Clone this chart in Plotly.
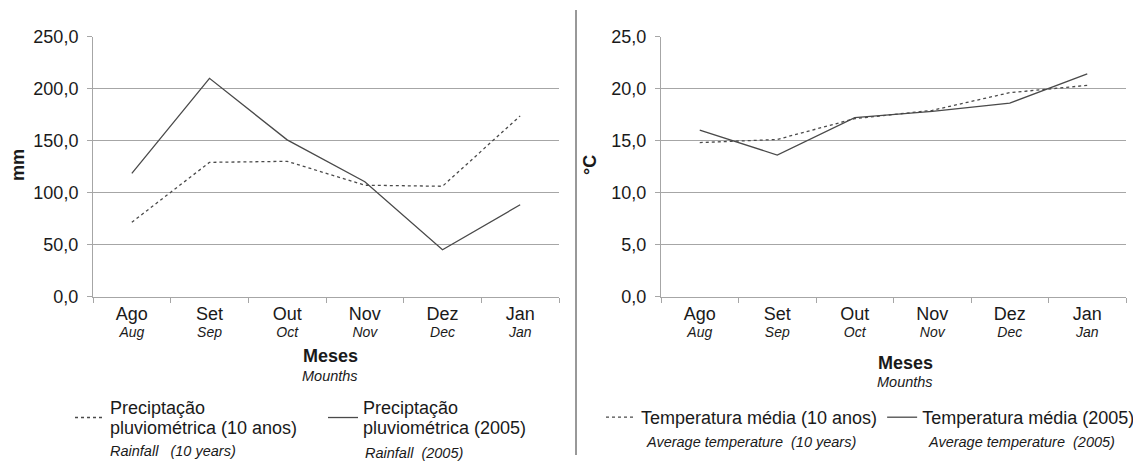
import plotly.graph_objects as go

months_pt = ["Ago", "Set", "Out", "Nov", "Dez", "Jan"]
months_en = ["Aug", "Sep", "Oct", "Nov", "Dec", "Jan"]
rain_10y = [71.4, 129.0, 130.0, 107.0, 106.0, 173.7]
rain_2005 = [118.4, 209.8, 150.6, 110.4, 45.0, 88.2]
temp_10y = [14.8, 15.1, 17.1, 17.9, 19.6, 20.3]
temp_2005 = [16.0, 13.6, 17.2, 17.8, 18.6, 21.4]
rain_ticks = [0, 50, 100, 150, 200, 250]
temp_ticks = [0, 5, 10, 15, 20, 25]

FONT = "Liberation Sans, Arial, sans-serif"
TXT = "#1a1a1a"
LINE = "#4a4a4a"
GRID = "#a6a6a6"

# page has an 8px body margin: figure is drawn 8px right/down of the page origin
OFF = 8
W, H = 1141 - OFF, 463 - OFF


def px(x):
    return (x - OFF) / W


def py(y):
    return 1 - (y - OFF) / H


ticktext = [f"<span style='font-size:18px'>{p}</span><br><i><span style='font-size:14px'>{e}</span></i>"
            for p, e in zip(months_pt, months_en)]


def big(s):
    return "<br>".join(f"<span style='font-size:18px'>{part}</span>" for part in s.split("|"))


fig = go.Figure()
fig.add_trace(go.Scatter(x=months_pt, y=rain_10y, mode="lines", name=big("Precipta\u00e7\u00e3o|pluviom\u00e9trica (10 anos)"),
                         line=dict(color=LINE, width=1.3, dash="3px,3px"), xaxis="x", yaxis="y", legend="legend"))
fig.add_trace(go.Scatter(x=months_pt, y=rain_2005, mode="lines", name=big("Precipta\u00e7\u00e3o|pluviom\u00e9trica (2005)"),
                         line=dict(color=LINE, width=1.3), xaxis="x", yaxis="y", legend="legend"))
fig.add_trace(go.Scatter(x=months_pt, y=temp_10y, mode="lines", name="Temperatura m\u00e9dia (10 anos)",
                         line=dict(color=LINE, width=1.3, dash="3px,3px"), xaxis="x2", yaxis="y2", legend="legend2"))
fig.add_trace(go.Scatter(x=months_pt, y=temp_2005, mode="lines", name="Temperatura m\u00e9dia (2005)",
                         line=dict(color=LINE, width=1.3), xaxis="x2", yaxis="y2", legend="legend2"))

ydom = [py(296.5), py(36.5)]

xcommon = dict(type="category", tickmode="array", tickvals=months_pt, ticktext=ticktext,
               range=[-0.5, 5.5], automargin=False, ticklabelstandoff=7,
               tickson="boundaries", ticks="outside", ticklen=5, tickcolor=GRID,
               showline=True, linecolor=GRID, linewidth=1, showgrid=False, zeroline=False,
               tickfont=dict(family=FONT, size=13, color=TXT), fixedrange=True)
ycommon = dict(showline=True, linecolor=GRID, linewidth=1, showgrid=True, gridcolor=GRID, gridwidth=1,
               ticks="outside", ticklen=5, tickcolor=GRID, zeroline=False, tickformat=".1f", automargin=False,
               ticklabelstandoff=5,
               tickfont=dict(family=FONT, size=18, color=TXT), domain=ydom)

fig.update_layout(
    width=W, height=H, margin=dict(l=0, r=0, t=0, b=0, autoexpand=False),
    paper_bgcolor="white", plot_bgcolor="white", separators=",.",
    font=dict(family=FONT, color=TXT),
    xaxis=dict(domain=[px(93), px(559)], anchor="y", **xcommon),
    yaxis=dict(range=[0, 250.01], tickvals=rain_ticks, anchor="x", **ycommon),
    xaxis2=dict(domain=[px(661), px(1126)], anchor="y2", **xcommon),
    yaxis2=dict(range=[0, 25.001], tickvals=temp_ticks, anchor="x2", **ycommon),
    legend=dict(orientation="h", x=px(70), y=py(391), xanchor="left", yanchor="top",
                font=dict(family=FONT, size=15.4, color=TXT), entrywidth=208, entrywidthmode="pixels",
                bgcolor="rgba(0,0,0,0)", tracegroupgap=0),
    legend2=dict(orientation="h", x=px(601), y=py(399), xanchor="left", yanchor="top",
                 font=dict(family=FONT, size=18, color=TXT),
                 bgcolor="rgba(0,0,0,0)", tracegroupgap=0),
    showlegend=True,
)

ann = [
    dict(text="<b>mm</b>", x=18, y=165, textangle=-90, size=18),
    dict(text="<b>\u00b0C</b>", x=590, y=165, textangle=-90, size=18),
    dict(text="<b>Meses</b>", x=330, y=356, size=18),
    dict(text="<i>Mounths</i>", x=330, y=376, size=14.5),
    dict(text="<b>Meses</b>", x=905, y=363, size=18),
    dict(text="<i>Mounths</i>", x=905, y=382, size=14.5),
    dict(text="<i>Rainfall   (10 years)</i>", x=108, y=451, xanchor="left", size=14.5),
    dict(text="<i>Rainfall  (2005)</i>", x=363, y=453, xanchor="left", size=14.5),
    dict(text="<i>Average temperature  (10 years)</i>", x=751, y=442, size=14.5),
    dict(text="<i>Average temperature  (2005)</i>", x=1021, y=442, size=14.5),
]
for a in ann:
    fig.add_annotation(xref="paper", yref="paper", showarrow=False, yanchor="middle",
                       xanchor=a.get("xanchor", "center"), textangle=a.get("textangle", 0),
                       x=px(a["x"]), y=py(a["y"]), text=a["text"],
                       font=dict(family=FONT, size=a["size"], color=TXT))

fig.add_shape(type="line", xref="paper", yref="paper", x0=px(576), x1=px(576), y0=py(10), y1=py(455),
              line=dict(color="#333333", width=1))

fig.write_html("out.html")
